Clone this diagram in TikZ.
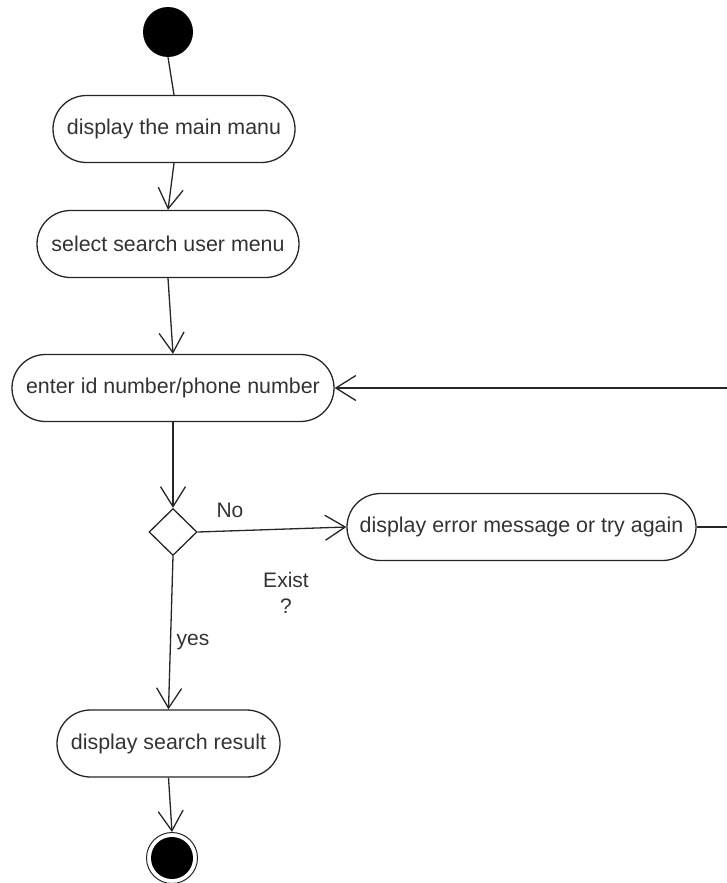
\documentclass[tikz,border=0pt]{standalone}
\usepackage{fontspec}
\setmainfont{Liberation Sans}
\usetikzlibrary{arrows.meta,shapes.geometric}
\begin{document}
\begin{tikzpicture}[x=1pt,y=-1pt,
  every node/.style={text=black!80},
  action/.style={draw=black!85,line width=1.3pt,rectangle,rounded corners=33.5pt,
    minimum height=67pt,inner sep=0pt,font=\fontsize{21.4}{26}\selectfont},
  flow/.style={draw=black!85,line width=1.3pt,-{Straight Barb[length=20pt,width=25pt]}},
  plainline/.style={draw=black!85,line width=1.3pt},
  lbl/.style={font=\fontsize{21}{26}\selectfont,inner sep=0pt,align=center}]
\useasboundingbox (0,0) rectangle (727,883);
\clip (0,0) rectangle (727,883);

% initial and final states
\node[circle,fill=black,minimum size=50pt,inner sep=0pt] (start) at (168,32) {};
\node[circle,draw=black!85,line width=1pt,fill=white,minimum size=51pt,inner sep=0pt] (stop) at (172,858) {};
\node[circle,fill=black,minimum size=42pt,inner sep=0pt] (stopdot) at (172,858) {};

% actions
\node[action,minimum width=242pt] (b1) at (174,129) {display the main manu};
\node[action,minimum width=262pt] (b2) at (168,244) {select search user menu};
\node[action,minimum width=322pt] (b3) at (173,388) {enter id number/phone number};
\node[action,minimum width=349pt] (b4) at (521.5,527) {display error message or try again};
\node[action,minimum width=223pt] (b5) at (168.5,743.5) {display search result};

% decision
\node[diamond,draw=black!85,line width=1.3pt,minimum width=48pt,minimum height=47pt,inner sep=0pt] (dec) at (173,532) {};

% labels
\node[lbl] (no) at (230,510) {No};
\node[lbl] (exist) at (286,593) {Exist\\?};
\node[lbl] (yes) at (193,642) {yes};

% connectors
\draw[plainline] (start.south) -- (b1.north);
\draw[flow] (b1.south) -- (b2.north);
\draw[flow] (b2.south) -- (b3.north);
\draw[flow] (b3.south) -- (dec.north);
\draw[flow] (dec.east) -- (b4.west);
\draw[flow] (dec.south) -- (b5.north);
\draw[flow] (b5.south) -- (stop.north);
\coordinate (loop) at (740,527);
\draw[flow] (b4.east) -- (loop) |- (b3.east);
\end{tikzpicture}
\end{document}
